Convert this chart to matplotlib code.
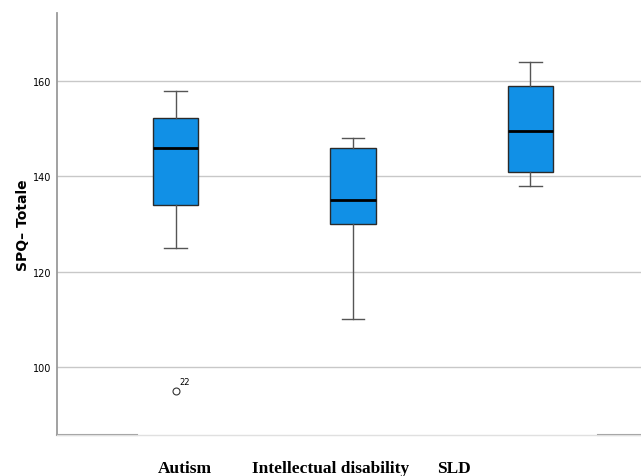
import numpy as np
import matplotlib
matplotlib.use('Agg')
import matplotlib.pyplot as plt

groups = ['Autism', 'Intellectual disability', 'SLD']
# whisker low, Q1, median, Q3, whisker high
whislo = [125, 110, 138]
q1 = [134, 130, 141]
med = [146, 135, 149.5]
q3 = [152.3, 146, 158.9]
whishi = [158, 148, 164]
outliers = [[95], [], []]
outlier_ids = [['22'], [], []]

stats = []
for i in range(len(groups)):
    stats.append(dict(whislo=whislo[i], q1=q1[i], med=med[i], q3=q3[i],
                      whishi=whishi[i], fliers=outliers[i]))

fig = plt.figure(figsize=(6.41, 4.77), dpi=100)
ax = fig.add_axes([57/641, 1 - 436/477, 1 - 57/641, (436 - 14)/477])

pos = np.arange(1, len(groups) + 1)
ax.bxp(stats, positions=pos, widths=0.254, patch_artist=True, showfliers=True,
       boxprops=dict(facecolor='#1190E6', edgecolor='#2a2a2a', linewidth=1.0),
       medianprops=dict(color='black', linewidth=2.0),
       whiskerprops=dict(color='#555555', linewidth=1.0),
       capprops=dict(color='#555555', linewidth=1.0),
       capwidths=0.125,
       flierprops=dict(marker='o', markersize=5, markerfacecolor='white',
                       markeredgecolor='#333333', markeredgewidth=0.8))

for i, ids in enumerate(outlier_ids):
    for v, lab in zip(outliers[i], ids):
        ax.annotate(lab, (pos[i], v), xytext=(3, 5), textcoords='offset points',
                    fontsize=6, family=['Liberation Sans Narrow', 'DejaVu Sans'])

ax.set_xlim(0.332, 3.623)
ax.set_ylim(85.7, 174.3)
ax.set_yticks([100, 120, 140, 160])
ax.yaxis.grid(True, color='#c8c8c8', linewidth=1.0)
ax.set_axisbelow(True)
ax.set_xticks([])
ax.tick_params(axis='y', length=0, pad=4)
for t in ax.get_yticklabels():
    t.set_fontsize(7)
    t.set_family(['Liberation Sans Narrow', 'DejaVu Sans'])

ax.spines['top'].set_visible(False)
ax.spines['right'].set_visible(False)
ax.spines['left'].set_color('#9a9a9a')
ax.spines['left'].set_linewidth(1.3)
ax.spines['bottom'].set_color('#e0e0e0')
ax.spines['bottom'].set_linewidth(1.0)
# darker bits of the baseline at both ends
ax.plot([0, (137 - 57)/584], [0, 0], transform=ax.transAxes, color='#9a9a9a',
        linewidth=1.5, clip_on=False)
ax.plot([(598 - 57)/584, 1], [0, 0], transform=ax.transAxes, color='#9a9a9a',
        linewidth=1.5, clip_on=False)

ax.set_ylabel('SPQ– Totale', fontsize=10, fontweight='bold', labelpad=2)

label_x = [185, 331, 454]
for lab, x in zip(groups, label_x):
    fig.text(x/641, 1 - 469/477, lab, ha='center', va='center', fontsize=12.5,
             fontweight='bold', family='Liberation Serif')

fig.savefig('out.png', dpi=100)
